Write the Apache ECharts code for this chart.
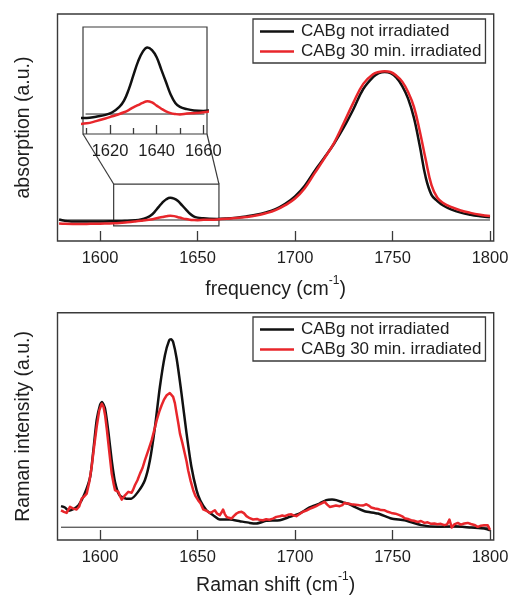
<!DOCTYPE html>
<html>
<head>
<meta charset="utf-8">
<script src="https://cdn.jsdelivr.net/npm/echarts@6/dist/echarts.min.js"></script>
<style>
  html, body { margin: 0; padding: 0; background: #fff; }
  #chart { width: 511px; height: 597px; }
</style>
</head>
<body>
<div id="chart"></div>
<script>
// absorption spectra (top panel), zero line = 0, main peak = 1
const absFreq = [1579, 1582, 1586, 1590, 1595, 1600, 1605, 1610, 1614, 1618, 1621, 1624, 1626, 1628, 1630,
  1632, 1634, 1636, 1638, 1640, 1642, 1644, 1646, 1648, 1650, 1653, 1656, 1660, 1665, 1670, 1675, 1680,
  1685, 1690, 1695, 1700, 1705, 1710, 1715, 1720, 1725, 1730, 1735, 1740, 1743, 1746, 1749, 1752, 1755,
  1758, 1761, 1764, 1767, 1770, 1773, 1776, 1780, 1785, 1790, 1795, 1800];
const absNotIrradiated = [0.003, -0.006, -0.010, -0.011, -0.011, -0.010, -0.009, -0.009, -0.006, -0.002,
  0.004, 0.016, 0.030, 0.055, 0.087, 0.118, 0.140, 0.150, 0.144, 0.128, 0.100, 0.072, 0.044, 0.025, 0.016,
  0.011, 0.008, 0.007, 0.010, 0.016, 0.024, 0.035, 0.051, 0.074, 0.110, 0.160, 0.232, 0.330, 0.420, 0.515,
  0.625, 0.750, 0.885, 0.965, 0.992, 1.000, 0.992, 0.962, 0.905, 0.820, 0.690, 0.500, 0.290, 0.170, 0.128,
  0.098, 0.072, 0.050, 0.036, 0.026, 0.018];
const absIrradiated = [-0.024, -0.026, -0.027, -0.027, -0.026, -0.025, -0.023, -0.021, -0.016, -0.010,
  -0.005, 0.000, 0.004, 0.009, 0.015, 0.020, 0.025, 0.029, 0.026, 0.019, 0.012, 0.006, 0.002, 0.000, -0.001,
  0.001, 0.002, 0.004, 0.008, 0.013, 0.020, 0.030, 0.045, 0.066, 0.100, 0.145, 0.215, 0.315, 0.415, 0.520,
  0.655, 0.795, 0.920, 0.985, 1.000, 1.005, 1.000, 0.975, 0.935, 0.865, 0.765, 0.600, 0.410, 0.235, 0.150,
  0.115, 0.088, 0.064, 0.048, 0.036, 0.027];

// Raman spectra (bottom panel), zero line = 0, 1636 peak = 1
const ramanShiftNot = [1580, 1582, 1584, 1586, 1589, 1592, 1595, 1596.6, 1598.3, 1600, 1601, 1602.6, 1604.3,
  1606, 1607.7, 1610, 1613.5, 1616, 1619.5, 1623, 1625.6, 1628.2, 1630.7, 1633.3, 1635.5, 1636.5, 1637.5,
  1639.3, 1641.8, 1644.4, 1646.9, 1649.5, 1651.5, 1654.6, 1658, 1661.4, 1666.6, 1671.7, 1676.8, 1680.2,
  1685.3, 1692.2, 1697.3, 1702.4, 1707.5, 1712.6, 1716, 1719, 1721.2, 1724.6, 1728, 1730.6, 1735.7, 1742.5,
  1749.4, 1756.2, 1764.7, 1773.2, 1781.8, 1790.3, 1797.1, 1800];
const ramanNot = [0.112, 0.105, 0.087, 0.094, 0.117, 0.175, 0.27, 0.41, 0.57, 0.65, 0.666, 0.63, 0.507,
  0.356, 0.241, 0.17, 0.152, 0.152, 0.188, 0.25, 0.356, 0.534, 0.746, 0.915, 0.995, 1.0, 0.985, 0.897, 0.711,
  0.498, 0.32, 0.197, 0.14, 0.09, 0.064, 0.041, 0.041, 0.032, 0.023, 0.020, 0.034, 0.037, 0.055, 0.073,
  0.105, 0.126, 0.144, 0.147, 0.144, 0.132, 0.122, 0.108, 0.085, 0.073, 0.046, 0.037, 0.011, 0.002, 0.005,
  -0.002, -0.007, -0.016];
const ramanShiftIrr = [1580, 1581.5, 1582.9, 1584.6, 1586.3, 1588, 1589.3, 1590.6, 1592, 1593.2, 1594.5,
  1595.7, 1597, 1598.3, 1599.6, 1600.9, 1601.8, 1602.6, 1603.5, 1604.3, 1605.2, 1606, 1607, 1607.7, 1608.5,
  1609.4, 1610.3, 1611.1, 1612, 1612.8, 1613.7, 1614.5, 1615.4, 1616.2, 1617, 1617.9, 1619.2, 1620.5,
  1621.8, 1623, 1624.8, 1626.5, 1627.8, 1629.1, 1630.4, 1631.6, 1632.9, 1634.2, 1635.8, 1636.7, 1637.5,
  1638.4, 1639.3, 1640.2, 1641, 1642.2, 1643.5, 1644.4, 1645.2, 1646.5, 1647.8, 1649, 1650.3, 1651.6,
  1652.9, 1653.8, 1655, 1656.3, 1657.6, 1658.9, 1660.1, 1661.4, 1662.3, 1663.1, 1664, 1664.9, 1666.1,
  1667.4, 1668.7, 1670, 1671.3, 1672.6, 1673.8, 1675.1, 1676.8, 1678.5, 1680.5, 1682, 1683.6, 1685.2,
  1686.9, 1688.7, 1690.4, 1691.3, 1692.2, 1693.5, 1694.7, 1696.4, 1698.1, 1699.4, 1700.7, 1702.4, 1704.1,
  1705.8, 1707.5, 1709.2, 1710.9, 1712.6, 1713.9, 1715.2, 1716.5, 1717.8, 1719.5, 1721, 1722.9, 1724.3,
  1725.4, 1727, 1728.9, 1731, 1733.1, 1734.8, 1736.6, 1737.8, 1739.1, 1741, 1742.5, 1744.2, 1746, 1747.6,
  1749.4, 1751.5, 1753.6, 1755, 1756.2, 1757.2, 1758.4, 1759.6, 1761, 1763, 1764.6, 1766.4, 1768, 1769.8,
  1771.5, 1773, 1774.8, 1776.6, 1778, 1779.2, 1780.4, 1781.7, 1783.5, 1785, 1786.8, 1788.6, 1790.2, 1792,
  1793.7, 1795.3, 1797, 1798.8, 1800];
const ramanIrr = [0.09, 0.082, 0.076, 0.108, 0.099, 0.094, 0.11, 0.152, 0.165, 0.179, 0.24, 0.32, 0.43,
  0.534, 0.62, 0.657, 0.64, 0.596, 0.52, 0.445, 0.36, 0.285, 0.23, 0.197, 0.2, 0.188, 0.165, 0.147, 0.158,
  0.17, 0.168, 0.188, 0.182, 0.183, 0.2, 0.223, 0.25, 0.285, 0.315, 0.356, 0.41, 0.463, 0.515, 0.569, 0.615,
  0.649, 0.68, 0.702, 0.714, 0.71, 0.693, 0.66, 0.604, 0.55, 0.498, 0.45, 0.391, 0.35, 0.303, 0.245, 0.197,
  0.165, 0.144, 0.126, 0.095, 0.09, 0.085, 0.076, 0.082, 0.09, 0.072, 0.064, 0.078, 0.094, 0.07, 0.055,
  0.05, 0.046, 0.06, 0.073, 0.08, 0.082, 0.075, 0.059, 0.048, 0.041, 0.044, 0.038, 0.037, 0.042, 0.04,
  0.046, 0.055, 0.064, 0.058, 0.062, 0.059, 0.066, 0.069, 0.062, 0.059, 0.07, 0.082, 0.088, 0.098, 0.105,
  0.112, 0.122, 0.128, 0.135, 0.12, 0.108, 0.112, 0.115, 0.112, 0.118, 0.129, 0.126, 0.122, 0.12, 0.117,
  0.115, 0.122, 0.115, 0.105, 0.1, 0.097, 0.091, 0.09, 0.082, 0.076, 0.072, 0.064, 0.058, 0.048, 0.054,
  0.042, 0.037, 0.034, 0.028, 0.033, 0.023, 0.026, 0.018, 0.02, 0.016, 0.018, 0.011, 0.015, 0.041, -0.002,
  0.015, 0.023, 0.014, 0.02, 0.023, 0.017, 0.012, 0.002, 0.008, 0.01, 0.011, -0.014];

const seriesNames = ['CABg not irradiated', 'CABg 30 min. irradiated'];
const freqTicks = [1600, 1650, 1700, 1750, 1800];
const insetTicks = [1620, 1640, 1660];
const insetMinorTicks = [1610, 1630, 1650];
const zeroSpan = [1580, 1800];
const insetZeroSpan = [1609.5, 1660.5];
const zoomBox = [[1607, -0.04], [1661, 0.243]];

const mainRange = [1578.2, 1801.9];
const insetRange = [1608.4, 1661.6];
const absRange = [-0.142, 1.392];
const insetAbsRange = [-0.045, 0.196];
const ramanRange = [-0.068, 1.141];

const font = 'Liberation Sans, Arial, sans-serif';
const textColor = '#1e1e1e';
const frameColor = '#3a3a3a';
const black = '#111111';
const red = '#e8262b';

const pairs = (xs, ys) => xs.map((x, i) => [x, ys[i]]);
const plain = (v) => String(v);

function freqAxis(gridIndex, name, nameGap) {
  return {
    type: 'value', gridIndex, position: 'bottom', min: mainRange[0], max: mainRange[1],
    name, nameLocation: 'middle', nameGap,
    nameTextStyle: {
      fontFamily: font, fontSize: 19.5, color: textColor,
      rich: {
        a: { fontFamily: font, fontSize: 19.5, color: textColor, lineHeight: 30 },
        sup: { fontFamily: font, fontSize: 12, color: textColor, lineHeight: 12, verticalAlign: 'top' }
      }
    },
    axisLine: { show: false, onZero: false },
    axisTick: { inside: true, length: 10, customValues: freqTicks, lineStyle: { color: frameColor, width: 1.3 } },
    axisLabel: { customValues: freqTicks, formatter: plain, margin: 9, fontFamily: font, fontSize: 16.5, color: textColor },
    splitLine: { show: false }
  };
}

function bareY(gridIndex, range, name) {
  return {
    type: 'value', gridIndex, min: range[0], max: range[1],
    name, nameLocation: 'middle', nameGap: 24, nameRotate: 90,
    nameTextStyle: { fontFamily: font, fontSize: 19.5, color: textColor },
    axisLine: { show: false, onZero: false }, axisTick: { show: false },
    axisLabel: { show: false }, splitLine: { show: false }
  };
}

function legendAt(top) {
  return {
    data: seriesNames, orient: 'vertical', left: 253, top,
    padding: [4, 4, 3, 7], itemGap: 3, itemWidth: 34, itemHeight: 2.6, icon: 'rect',
    borderColor: frameColor, borderWidth: 1.3, backgroundColor: '#fff',
    textStyle: { fontFamily: font, fontSize: 17, color: textColor, lineHeight: 17, padding: [0, 0, 0, 2] }
  };
}

function spectrum(name, data, color, xi, yi, smooth) {
  return {
    name, type: 'line', data, xAxisIndex: xi, yAxisIndex: yi,
    symbol: 'none', smooth, silent: true,
    lineStyle: { color, width: 2.5, join: 'round' }, itemStyle: { color }
  };
}

function zeroLine(span, xi, yi, extra) {
  return Object.assign({
    type: 'line', data: [[span[0], 0], [span[1], 0]], xAxisIndex: xi, yAxisIndex: yi,
    symbol: 'none', silent: true, lineStyle: { color: '#222', width: 1 }
  }, extra || {});
}

const chart = echarts.init(document.getElementById('chart'));
chart.setOption({
  animation: false,
  grid: [
    { left: 57.5, top: 14, width: 436.2, height: 227, show: true, borderColor: frameColor, borderWidth: 1.4, outerBoundsMode: 'none' },
    { left: 83, top: 27, width: 124, height: 107, show: true, borderColor: frameColor, borderWidth: 1.2, backgroundColor: '#fff', outerBoundsMode: 'none' },
    { left: 57.5, top: 312.7, width: 436.2, height: 227.3, show: true, borderColor: frameColor, borderWidth: 1.4, outerBoundsMode: 'none' }
  ],
  xAxis: [
    freqAxis(0, '{a|frequency (cm}{sup|-1}{a|)}', 33.5),
    {
      type: 'value', gridIndex: 1, position: 'bottom', min: insetRange[0], max: insetRange[1],
      axisLine: { show: false, onZero: false },
      axisTick: { inside: true, length: 9, customValues: insetTicks, lineStyle: { color: frameColor, width: 1.3 } },
      axisLabel: { customValues: insetTicks, formatter: plain, margin: 9, fontFamily: font, fontSize: 16.5, color: textColor },
      splitLine: { show: false }
    },
    {
      type: 'value', gridIndex: 1, position: 'bottom', min: insetRange[0], max: insetRange[1],
      axisLine: { show: false, onZero: false },
      axisTick: { inside: true, length: 6, customValues: insetMinorTicks, lineStyle: { color: frameColor, width: 1.3 } },
      axisLabel: { show: false }, splitLine: { show: false }
    },
    freqAxis(2, '{a|Raman shift (cm}{sup|-1}{a|)}', 30.5)
  ],
  yAxis: [
    bareY(0, absRange, 'absorption (a.u.)'),
    bareY(1, insetAbsRange, ''),
    bareY(2, ramanRange, 'Raman intensity (a.u.)')
  ],
  legend: [legendAt(19), legendAt(317)],
  series: [
    zeroLine(zeroSpan, 0, 0, {
      markArea: {
        silent: true,
        itemStyle: { color: 'rgba(0,0,0,0)', borderColor: frameColor, borderWidth: 1.2 },
        data: [[{ coord: zoomBox[0] }, { coord: zoomBox[1] }]]
      }
    }),
    spectrum(seriesNames[0], pairs(absFreq, absNotIrradiated), black, 0, 0, 0.4),
    spectrum(seriesNames[1], pairs(absFreq, absIrradiated), red, 0, 0, 0.4),
    zeroLine(insetZeroSpan, 1, 1),
    spectrum(seriesNames[0], pairs(absFreq, absNotIrradiated), black, 1, 1, 0.4),
    spectrum(seriesNames[1], pairs(absFreq, absIrradiated), red, 1, 1, 0.4),
    zeroLine(zeroSpan, 3, 2),
    spectrum(seriesNames[0], pairs(ramanShiftNot, ramanNot), black, 3, 2, 0.2),
    spectrum(seriesNames[1], pairs(ramanShiftIrr, ramanIrr), red, 3, 2, false)
  ]
});

// connector lines from the inset to the zoomed box
const insetBL = chart.convertToPixel({ xAxisIndex: 1, yAxisIndex: 1 }, [insetRange[0], insetAbsRange[0]]);
const insetBR = chart.convertToPixel({ xAxisIndex: 1, yAxisIndex: 1 }, [insetRange[1], insetAbsRange[0]]);
const boxTL = chart.convertToPixel({ xAxisIndex: 0, yAxisIndex: 0 }, [zoomBox[0][0], zoomBox[1][1]]);
const boxTR = chart.convertToPixel({ xAxisIndex: 0, yAxisIndex: 0 }, [zoomBox[1][0], zoomBox[1][1]]);
chart.setOption({
  graphic: [insetBL, insetBR].map((p, i) => ({
    type: 'line', silent: true,
    shape: { x1: p[0], y1: p[1], x2: [boxTL, boxTR][i][0], y2: [boxTL, boxTR][i][1] },
    style: { stroke: frameColor, lineWidth: 1.2 }
  }))
});
</script>
</body>
</html>
